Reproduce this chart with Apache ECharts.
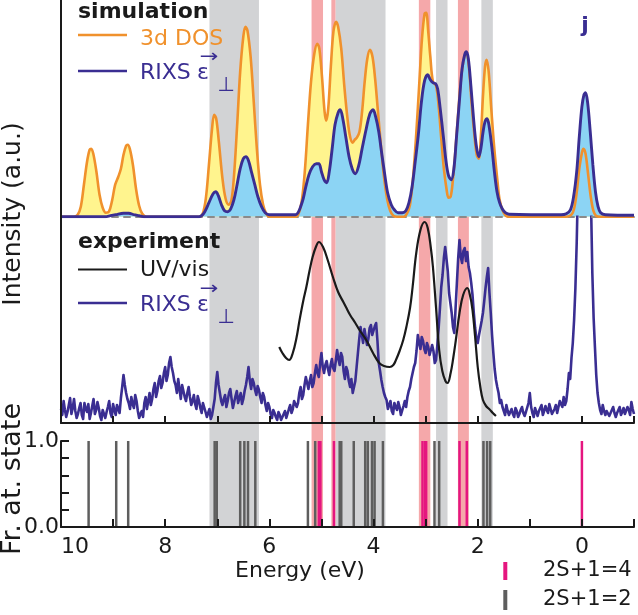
<!DOCTYPE html>
<html><head><meta charset="utf-8">
<script src="https://cdn.jsdelivr.net/npm/echarts@6/dist/echarts.min.js"></script>
<style>html,body{margin:0;padding:0;background:#fff}#c{width:638px;height:615px}</style>
</head><body><div id="c"></div>
<script>
// ---------- data (energy in eV, intensities in arbitrary units) ----------
const simDOS = [[10,0],[9.75,0],[9.68,2],[9.62,10],[9.56,32],[9.5,55],[9.45,67],[9.42,68],[9.38,63],[9.32,45],[9.26,22],[9.2,9],[9.14,4],[9.08,5],[9.02,16],[8.96,32],[8.9,40],[8.85,48],[8.8,62],[8.75,71],[8.72,72],[8.68,68],[8.62,52],[8.56,28],[8.5,11],[8.44,3],[8.36,0],[7.35,0],[7.28,3],[7.22,18],[7.16,52],[7.1,88],[7.06,102],[7.02,98],[6.97,75],[6.9,38],[6.84,18],[6.78,12],[6.73,16],[6.68,40],[6.62,90],[6.56,145],[6.5,180],[6.46,190],[6.42,186],[6.36,160],[6.3,115],[6.24,68],[6.18,32],[6.12,12],[6.06,3],[6.0,0],[5.5,0],[5.44,3],[5.38,15],[5.32,45],[5.26,92],[5.2,135],[5.14,162],[5.08,173],[5.04,168],[4.99,140],[4.94,105],[4.91,96],[4.87,108],[4.82,150],[4.77,185],[4.72,195],[4.68,190],[4.62,168],[4.56,130],[4.5,98],[4.45,80],[4.4,74],[4.36,77],[4.32,79],[4.27,85],[4.22,105],[4.17,135],[4.12,158],[4.07,167],[4.02,160],[3.97,138],[3.92,108],[3.86,72],[3.8,40],[3.74,18],[3.68,6],[3.62,1],[3.55,0],[3.42,0],[3.36,3],[3.3,12],[3.24,40],[3.18,83],[3.12,135],[3.07,178],[3.02,203],[2.99,204],[2.95,185],[2.91,160],[2.86,135],[2.8,131],[2.75,110],[2.7,78],[2.65,48],[2.6,28],[2.56,19],[2.52,20],[2.48,35],[2.43,65],[2.38,100],[2.32,138],[2.26,160],[2.22,163],[2.17,150],[2.12,115],[2.07,85],[2.02,62],[1.98,58],[1.94,80],[1.9,120],[1.86,150],[1.83,157],[1.79,145],[1.74,108],[1.68,67],[1.62,35],[1.58,17],[1.52,6],[1.46,1],[1.4,0],[0.3,0],[0.2,2],[0.15,8],[0.1,24],[0.05,48],[0.0,64],[-0.03,68],[-0.07,63],[-0.12,42],[-0.17,20],[-0.22,6],[-0.27,1],[-0.35,0],[-1,0]];
const simRIXS = [[10,0],[9.15,0],[9.05,1],[8.95,2],[8.8,3.5],[8.7,3.5],[8.6,2],[8.5,1],[8.4,0],[7.35,0],[7.3,1],[7.24,5],[7.16,14],[7.08,23],[7.03,25],[6.98,21],[6.92,12],[6.86,6],[6.8,5],[6.74,8],[6.68,17],[6.62,32],[6.56,48],[6.5,58],[6.45,60],[6.4,56],[6.34,44],[6.28,32],[6.22,20],[6.15,10],[6.08,4],[6.0,2],[5.5,2],[5.45,4],[5.4,10],[5.35,18],[5.3,30],[5.24,42],[5.17,50],[5.1,53],[5.05,53],[5.0,45],[4.95,37],[4.9,34],[4.85,45],[4.79,70],[4.74,92],[4.68,104],[4.64,107],[4.59,98],[4.53,79],[4.47,60],[4.41,48],[4.35,43],[4.29,50],[4.22,68],[4.14,88],[4.07,103],[4.01,107],[3.96,100],[3.9,85],[3.85,66],[3.79,44],[3.73,24],[3.66,12],[3.6,7],[3.53,4],[3.45,4],[3.38,6],[3.32,14],[3.26,30],[3.2,55],[3.14,82],[3.08,115],[3.02,136],[2.96,142],[2.91,137],[2.86,134],[2.81,133],[2.77,128],[2.72,108],[2.66,80],[2.61,56],[2.56,41],[2.51,37],[2.46,47],[2.41,78],[2.35,117],[2.3,148],[2.25,162],[2.22,165],[2.18,158],[2.13,130],[2.08,98],[2.03,72],[1.98,60],[1.94,68],[1.9,84],[1.86,95],[1.82,98],[1.78,90],[1.73,70],[1.68,45],[1.63,25],[1.58,14],[1.53,8],[1.47,4],[1.4,2.5],[0.4,2],[0.3,3],[0.22,7],[0.16,20],[0.1,45],[0.05,80],[0.0,110],[-0.04,122],[-0.07,124],[-0.11,114],[-0.16,85],[-0.21,52],[-0.26,25],[-0.31,10],[-0.36,4],[-0.45,2],[-1,1.5]];
const expUV = [[5.81,76],[5.75,70],[5.68,65],[5.62,63],[5.55,70],[5.48,85],[5.42,103],[5.35,122],[5.29,136],[5.23,152],[5.17,166],[5.10,177],[5.05,181],[4.97,176],[4.88,163],[4.78,146],[4.68,131],[4.58,121],[4.53,116],[4.45,108],[4.35,100],[4.27,93],[4.14,83],[4.01,70],[3.89,60],[3.80,57],[3.69,56],[3.62,58],[3.57,63],[3.50,72],[3.43,83],[3.37,96],[3.30,115],[3.25,136],[3.18,170],[3.10,193],[3.02,201],[2.96,195],[2.90,175],[2.86,156],[2.80,115],[2.74,73],[2.68,52],[2.62,42],[2.58,40],[2.52,50],[2.47,65],[2.42,83],[2.35,110],[2.28,128],[2.20,135],[2.15,128],[2.10,113],[2.05,86],[2.00,56],[1.95,36],[1.90,23],[1.84,17],[1.78,14],[1.71,10],[1.65,7]];
const expRIXS = [
[10.000,14],[9.975,8],[9.950,22],[9.925,13],[9.900,6],[9.875,11],[9.850,18],[9.825,25],[9.800,9],[9.775,15],
[9.750,24],[9.725,12],[9.700,5],[9.675,9],[9.650,15],[9.625,20],[9.600,8],[9.575,4],[9.550,20],[9.525,14],
[9.500,11],[9.475,19],[9.450,4],[9.425,10],[9.400,17],[9.375,24],[9.350,9],[9.325,13],[9.300,21],[9.275,15],
[9.250,7],[9.225,3],[9.200,13],[9.175,9],[9.150,5],[9.125,11],[9.100,16],[9.075,22],[9.050,10],[9.025,6],
[9.000,19],[8.975,13],[8.950,8],[8.925,18],[8.900,14],[8.875,10],[8.850,25],[8.825,36],[8.800,48],[8.775,38],
[8.750,30],[8.725,24],[8.700,20],[8.675,14],[8.650,26],[8.625,19],[8.600,15],[8.575,28],[8.550,22],[8.525,12],
[8.500,5],[8.475,9],[8.450,12],[8.425,6],[8.400,20],[8.375,26],[8.350,14],[8.325,22],[8.300,30],[8.275,18],
[8.250,24],[8.225,34],[8.200,40],[8.175,26],[8.150,32],[8.125,42],[8.100,47],[8.075,35],[8.050,40],[8.025,50],
[8.000,56],[7.975,42],[7.950,48],[7.925,60],[7.900,66],[7.875,56],[7.850,50],[7.825,42],[7.800,38],[7.775,30],
[7.750,44],[7.725,34],[7.700,24],[7.675,38],[7.650,32],[7.625,26],[7.600,22],[7.575,30],[7.550,36],[7.525,26],
[7.500,18],[7.475,22],[7.450,28],[7.425,19],[7.400,14],[7.375,27],[7.350,22],[7.325,15],[7.300,10],[7.275,20],
[7.250,18],[7.225,11],[7.200,6],[7.175,10],[7.150,14],[7.125,4],[7.100,8],[7.075,16],[7.050,24],[7.025,40],
[7.000,51],[6.975,38],[6.950,30],[6.925,22],[6.900,18],[6.875,24],[6.850,28],[6.825,16],[6.800,22],[6.775,30],
[6.750,34],[6.725,24],[6.700,15],[6.675,21],[6.650,27],[6.625,32],[6.600,20],[6.575,25],[6.550,30],[6.525,19],
[6.500,24],[6.475,32],[6.450,38],[6.425,46],[6.400,56],[6.375,42],[6.350,34],[6.325,44],[6.300,40],[6.275,33],
[6.250,28],[6.225,37],[6.200,33],[6.175,26],[6.150,20],[6.125,30],[6.100,26],[6.075,18],[6.050,12],[6.025,20],
[6.000,16],[5.975,9],[5.950,5],[5.925,13],[5.900,10],[5.875,6],[5.850,3],[5.825,11],[5.800,8],[5.775,3],
[5.750,4],[5.725,9],[5.700,12],[5.675,5],[5.650,6],[5.625,14],[5.600,18],[5.575,10],[5.550,14],[5.525,22],
[5.500,24],[5.475,16],[5.450,20],[5.425,30],[5.400,36],[5.375,24],[5.350,28],[5.325,38],[5.300,46],[5.275,40],
[5.250,34],[5.225,42],[5.200,48],[5.175,36],[5.150,40],[5.125,50],[5.100,58],[5.075,50],[5.050,46],[5.025,60],
[5.000,70],[4.975,56],[4.950,50],[4.925,58],[4.900,62],[4.875,54],[4.850,48],[4.825,58],[4.800,64],[4.775,55],
[4.750,52],[4.725,62],[4.700,73],[4.675,64],[4.650,58],[4.625,70],[4.600,66],[4.575,52],[4.550,44],[4.525,56],
[4.500,52],[4.475,42],[4.450,36],[4.425,44],[4.400,30],[4.375,36],[4.350,42],[4.325,56],[4.300,70],[4.275,84],
[4.250,96],[4.225,88],[4.200,80],[4.175,94],[4.150,93],[4.125,78],[4.100,84],[4.075,95],[4.050,98],[4.025,88],
[4.000,86],[3.975,97],[3.950,100],[3.925,82],[3.900,60],[3.875,52],[3.850,43],[3.825,36],[3.800,30],[3.775,26],
[3.750,23],[3.725,14],[3.700,18],[3.675,22],[3.650,12],[3.625,9],[3.600,20],[3.575,16],[3.550,13],[3.525,21],
[3.500,16],[3.475,8],[3.450,10],[3.425,17],[3.400,22],[3.375,16],[3.350,26],[3.325,32],[3.300,36],[3.275,44],
[3.250,50],[3.225,56],[3.200,60],[3.175,72],[3.150,88],[3.125,80],[3.100,74],[3.075,86],[3.050,82],[3.025,74],
[3.000,70],[2.975,80],[2.950,76],[2.925,68],[2.900,66],[2.875,78],[2.850,72],[2.825,60],[2.800,63],[2.775,78],
[2.750,95],[2.725,115],[2.700,136],[2.675,148],[2.650,165],[2.625,176],[2.600,178],[2.575,152],[2.550,130],[2.525,120],
[2.500,110],[2.475,96],[2.450,90],[2.425,115],[2.400,140],[2.375,165],[2.350,183],[2.325,166],[2.300,160],[2.275,172],
[2.250,175],[2.225,162],[2.200,171],[2.175,156],[2.150,150],[2.125,140],[2.100,128],[2.075,110],[2.050,95],[2.025,84],
[2.000,80],[1.975,88],[1.950,90],[1.925,102],[1.900,110],[1.875,122],[1.850,135],[1.825,146],[1.800,155],[1.775,130],
[1.750,110],[1.725,88],[1.700,70],[1.675,54],[1.650,43],[1.625,36],[1.600,30],[1.575,20],[1.550,23],[1.525,16],
[1.500,12],[1.475,8],[1.450,18],[1.425,12],[1.400,8],[1.375,11],[1.350,14],[1.325,9],[1.300,6],[1.275,15],
[1.250,12],[1.225,6],[1.200,9],[1.175,13],[1.150,16],[1.125,10],[1.100,7],[1.075,11],[1.050,13],[1.025,20],
[1.000,30],[0.975,16],[0.950,10],[0.925,6],[0.900,15],[0.875,11],[0.850,7],[0.825,12],[0.800,13],[0.775,18],
[0.750,8],[0.725,12],[0.700,17],[0.675,13],[0.650,10],[0.625,19],[0.600,14],[0.575,9],[0.550,8],[0.525,14],
[0.500,18],[0.475,10],[0.450,12],[0.425,22],[0.400,20],[0.375,16],[0.350,26],[0.325,18],[0.300,22],[0.275,34],
[0.250,50],[0.225,44],[0.200,65],[0.175,80],[0.150,103],[0.125,135],[0.100,180],[0.075,240],[0.050,300],[0.000,300],
[-0.150,300],[-0.175,220],[-0.200,150],[-0.225,105],[-0.250,76],[-0.275,48],[-0.300,30],[-0.325,20],[-0.350,13],[-0.375,9],
[-0.400,18],[-0.425,12],[-0.450,8],[-0.475,12],[-0.500,14],[-0.525,7],[-0.550,9],[-0.575,13],[-0.600,16],[-0.625,10],
[-0.650,6],[-0.675,10],[-0.700,12],[-0.725,16],[-0.750,8],[-0.775,11],[-0.800,15],[-0.825,9],[-0.850,10],[-0.875,16],
[-0.900,13],[-0.925,8],[-0.950,21],[-0.975,14],[-1.000,9]];
const statesQuartet = [5.05, 5.02, 4.76, 3.06, 3.01, 2.99, 2.35, 2.21, 0.0];
const statesDoublet = [9.47, 8.94, 8.71, 7.05, 7.01, 6.56, 6.48, 6.41, 6.27, 5.26, 5.12, 4.65, 4.62, 4.38, 4.16, 4.11, 4.03, 3.98, 3.82, 2.83, 2.74, 1.89, 1.82, 1.76];
const stateFraction = 1.0;
const grayBands = [[7.15, 6.20], [4.73, 3.77], [2.80, 2.58], [1.93, 1.71]];
const pinkBands = [[5.19, 4.97], [4.81, 4.73], [3.13, 2.91], [2.38, 2.17]];
const xTickLabels = [10, 8, 6, 4, 2, 0];
const yTickLabels = { 0: '0.0', 1: '1.0' };

// ---------- styling ----------
const FONT = '"DejaVu Sans", sans-serif';
const C = {
  orange: '#f0912c', yellow: '#fff48e', blue: '#3a2e92', lightBlue: '#8cd4f4',
  black: '#1a1a1a', grayBand: '#d2d3d5', pinkBand: '#f5a8aa',
  magenta: '#e5167f', grayStick: '#5e5e5e', dash: '#8a8a8a'
};
const X0 = 61, XR = 4;
const SIM_BASE = 216.7, TOP_BOTTOM = 423, LOW_TOP = 441, LOW_BOTTOM = 527;

function xAx(grid, extra) {
  return Object.assign({ type: 'value', gridIndex: grid, min: -1, max: 10, interval: 1, inverse: true,
    axisLine: { show: false, onZero: false }, axisTick: { show: false }, axisLabel: { show: false },
    splitLine: { show: false } }, extra || {});
}
function yAx(grid, max, extra) {
  return Object.assign({ type: 'value', gridIndex: grid, min: 0, max: max,
    axisLine: { show: false, onZero: false }, axisTick: { show: false }, axisLabel: { show: false },
    splitLine: { show: false } }, extra || {});
}
function txt(x, y, s, font, fill, align, extra) {
  return Object.assign({ type: 'text', x: x, y: y, z: 100, silent: true,
    style: { text: s, font: font, fill: fill, textAlign: align || 'left', align: align || 'left',
      textVerticalAlign: 'middle', verticalAlign: 'middle' } }, extra || {});
}
function seg(x1, y1, x2, y2, color, w) {
  return { type: 'line', z: 100, silent: true, shape: { x1: x1, y1: y1, x2: x2, y2: y2 }, style: { stroke: color, lineWidth: w } };
}
function epsPerp(x, y, color) {
  return [
    txt(x, y, 'ε', '22px ' + FONT, color),
    txt(x + 12, y - 16, '→', '18px ' + FONT, color, 'center', { scaleX: 1.25 }),
    txt(x + 29, y + 13, '⊥', '20px ' + FONT, color, 'center')
  ];
}

const bandMarks = grayBands.map(b => [{ xAxis: b[0], itemStyle: { color: C.grayBand } }, { xAxis: b[1] }])
  .concat(pinkBands.map(b => [{ xAxis: b[0], itemStyle: { color: C.pinkBand } }, { xAxis: b[1] }]));

const option = {
  animation: false,
  backgroundColor: '#fff',
  grid: [
    { left: X0, right: XR, top: 0, height: LOW_BOTTOM },
    { left: X0, right: XR, top: 0, height: TOP_BOTTOM },
    { left: X0, right: XR, top: 0, height: SIM_BASE },
    { left: X0, right: XR, top: SIM_BASE, height: TOP_BOTTOM - SIM_BASE },
    { left: X0, right: XR, top: LOW_TOP, height: LOW_BOTTOM - LOW_TOP }
  ],
  xAxis: [
    xAx(0),
    xAx(1, { z: 10, axisLine: { show: true, onZero: false, lineStyle: { color: C.black, width: 2 } },
      axisTick: { show: true, inside: true, length: 7, lineStyle: { color: C.black, width: 2 } } }),
    xAx(2, { z: 4, axisLine: { show: true, onZero: false, lineStyle: { color: C.dash, width: 2, type: [6, 6] } } }),
    xAx(3),
    xAx(4, { z: 10, axisLine: { show: true, onZero: false, lineStyle: { color: C.black, width: 2 } },
      axisTick: { show: true, inside: true, length: 8, lineStyle: { color: C.black, width: 2 } },
      axisLabel: { show: true, margin: 9, color: C.black, fontSize: 22, fontFamily: FONT, alignMaxLabel: 'left',
        formatter: v => { const r = Math.round(v * 1000) / 1000; return xTickLabels.indexOf(r) >= 0 ? String(r) : ''; } } })
  ],
  yAxis: [
    yAx(0, 1),
    yAx(1, 1, { z: 10, axisLine: { show: true, onZero: false, lineStyle: { color: C.black, width: 2 } } }),
    yAx(2, SIM_BASE),
    yAx(3, TOP_BOTTOM - SIM_BASE),
    yAx(4, 1, { interval: 0.2, z: 10, axisLine: { show: true, onZero: false, lineStyle: { color: C.black, width: 2 } },
      axisTick: { show: true, inside: true, length: 8, lineStyle: { color: C.black, width: 2 } },
      axisLabel: { show: true, margin: 2, color: C.black, fontSize: 22, fontFamily: FONT,
        formatter: v => { const r = Math.round(v * 1000) / 1000; return yTickLabels[r] || ''; } } })
  ],
  series: [
    { type: 'line', xAxisIndex: 0, yAxisIndex: 0, data: [[-1, -10]], symbol: 'none', silent: true, z: 1,
      lineStyle: { opacity: 0 }, markArea: { silent: true, data: bandMarks } },
    { type: 'line', xAxisIndex: 2, yAxisIndex: 2, data: simDOS, smooth: 0.35, symbol: 'none', z: 2,
      lineStyle: { width: 0, opacity: 0 }, areaStyle: { color: C.yellow, opacity: 1 } },
    { type: 'line', xAxisIndex: 2, yAxisIndex: 2, data: simRIXS, smooth: 0.35, symbol: 'none', z: 3,
      lineStyle: { width: 0, opacity: 0 }, areaStyle: { color: C.lightBlue, opacity: 1 } },
    { type: 'line', xAxisIndex: 2, yAxisIndex: 2, data: simDOS, smooth: 0.35, symbol: 'none', z: 5,
      lineStyle: { color: C.orange, width: 2.6 } },
    { type: 'line', xAxisIndex: 2, yAxisIndex: 2, data: simRIXS, smooth: 0.35, symbol: 'none', z: 6,
      lineStyle: { color: C.blue, width: 2.9 } },
    { type: 'line', xAxisIndex: 3, yAxisIndex: 3, data: expRIXS, symbol: 'none', z: 3, clip: true,
      lineStyle: { color: C.blue, width: 2.6, join: 'round' } },
    { type: 'line', xAxisIndex: 3, yAxisIndex: 3, data: expUV, smooth: 0.4, symbol: 'none', z: 4,
      lineStyle: { color: C.black, width: 2.2 } },
    { type: 'bar', xAxisIndex: 4, yAxisIndex: 4, data: statesDoublet.map(e => [e, stateFraction]), barWidth: 2.5,
      barGap: '-100%', z: 5, itemStyle: { color: C.grayStick } },
    { type: 'bar', xAxisIndex: 4, yAxisIndex: 4, data: statesQuartet.map(e => [e, stateFraction]), barWidth: 2.5,
      barGap: '-100%', z: 6, itemStyle: { color: C.magenta } }
  ],
  graphic: [
    txt(78, 12, 'simulation', 'bold 22px ' + FONT, C.black),
    seg(78, 35, 127, 35, C.orange, 2.5),
    txt(140, 39, '3d DOS', '22px ' + FONT, C.orange),
    seg(78, 71, 127, 71, C.blue, 2.5),
    txt(140, 73, 'RIXS', '22px ' + FONT, C.blue),
    ...epsPerp(197, 73, C.blue),
    txt(585, 26, 'j', 'bold 22px ' + FONT, C.blue, 'center'),
    txt(78, 242, 'experiment', 'bold 22px ' + FONT, C.black),
    seg(78, 269.5, 127, 269.5, C.black, 2),
    txt(140, 270, 'UV/vis', '22px ' + FONT, C.black),
    seg(78, 303, 127, 303, C.blue, 2.5),
    txt(140, 305, 'RIXS', '22px ' + FONT, C.blue),
    ...epsPerp(197, 305, C.blue),
    txt(13, 214, 'Intensity (a.u.)', '25px ' + FONT, C.black, 'center', { rotation: Math.PI / 2 }),
    txt(13, 479, 'Fr. at. state', '27px ' + FONT, C.black, 'center', { rotation: Math.PI / 2 }),
    txt(300, 571, 'Energy (eV)', '22px ' + FONT, C.black, 'center'),
    { type: 'rect', z: 100, silent: true, shape: { x: 503.3, y: 562, width: 4, height: 18 }, style: { fill: C.magenta } },
    { type: 'rect', z: 100, silent: true, shape: { x: 503.3, y: 590, width: 4, height: 20 }, style: { fill: C.grayStick } },
    txt(543, 571, '2S+1=4', '21px ' + FONT, C.black),
    txt(543, 600, '2S+1=2', '21px ' + FONT, C.black)
  ]
};
const chart = echarts.init(document.getElementById('c'), null, { renderer: 'canvas' });
chart.setOption(option);
</script></body></html>
